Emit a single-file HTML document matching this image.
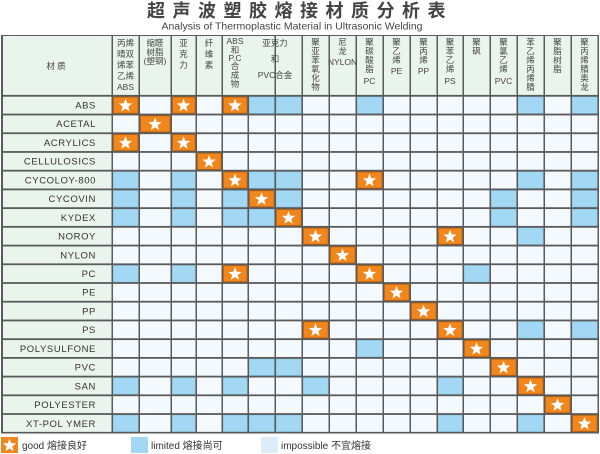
<!DOCTYPE html>
<html><head><meta charset="utf-8"><style>
body{margin:0;background:#fff;width:600px;height:454px;overflow:hidden;font-family:"Liberation Sans","Noto Sans CJK SC",sans-serif}
svg{display:block}
.h{font-size:8.5px;fill:#444;text-anchor:middle;font-family:"Liberation Sans","Noto Sans CJK SC",sans-serif}
.l{font-size:9.5px;fill:#333;text-anchor:end;letter-spacing:0.6px}
</style></head><body>
<svg id="s" width="600" height="454" xmlns="http://www.w3.org/2000/svg">
<text x="300" y="17" text-anchor="middle" font-size="18" font-weight="bold" fill="#444" letter-spacing="7.5" font-family="'Noto Sans CJK SC',sans-serif">超声波塑胶熔接材质分析表</text>
<text x="292" y="29.5" text-anchor="middle" font-size="10.5" fill="#444">Analysis of Thermoplastic Material in Ultrasonic Welding</text>
<rect x="1" y="35" width="598" height="398.5" fill="#5a5a5a"/>
<g id="cells"></g>
<g>
<text class="h" x="56" y="69" font-size="10">材 质</text>
<text class="h" x="125.5" y="46">丙烯</text><text class="h" x="125.5" y="57">晴双</text><text class="h" x="125.5" y="68">烯苯</text><text class="h" x="125.5" y="79">乙烯</text><text class="h" x="125.5" y="90">ABS</text>
<text class="h" x="155" y="46">缩醛</text><text class="h" x="155" y="55">树脂</text><text class="h" x="155" y="64">(塑钢)</text>
<text class="h" x="183.5" y="46">亚</text><text class="h" x="183.5" y="57">克</text><text class="h" x="183.5" y="68">力</text>
<text class="h" x="209" y="46">纤</text><text class="h" x="209" y="57">维</text><text class="h" x="209" y="68">素</text>
<text class="h" x="235" y="44" font-size="7">ABS</text><text class="h" x="235" y="53">和</text><text class="h" x="235" y="61" font-size="7">P.C</text><text class="h" x="235" y="69">合</text><text class="h" x="235" y="78">成</text><text class="h" x="235" y="87">物</text>
<text class="h" x="275" y="46">亚克力</text><text class="h" x="275" y="62">和</text><text class="h" x="275" y="78">PVC合金</text>
<text class="h" x="315.5" y="45">聚</text><text class="h" x="315.5" y="54">亚</text><text class="h" x="315.5" y="63">苯</text><text class="h" x="315.5" y="72">氧</text><text class="h" x="315.5" y="81">化</text><text class="h" x="315.5" y="90">物</text>
<text class="h" x="342.5" y="45">尼</text><text class="h" x="342.5" y="54">龙</text><text class="h" x="342.5" y="65" font-size="6.5">NYLON</text>
<text class="h" x="369.5" y="45">聚</text><text class="h" x="369.5" y="54">碳</text><text class="h" x="369.5" y="63">酸</text><text class="h" x="369.5" y="72">脂</text><text class="h" x="369.5" y="84" font-size="10">PC</text>
<text class="h" x="396.5" y="45">聚</text><text class="h" x="396.5" y="54">乙</text><text class="h" x="396.5" y="63">烯</text><text class="h" x="396.5" y="74" font-size="10">PE</text>
<text class="h" x="423.5" y="45">聚</text><text class="h" x="423.5" y="54">丙</text><text class="h" x="423.5" y="63">烯</text><text class="h" x="423.5" y="74" font-size="10">PP</text>
<text class="h" x="450" y="45">聚</text><text class="h" x="450" y="54">苯</text><text class="h" x="450" y="63">乙</text><text class="h" x="450" y="72">烯</text><text class="h" x="450" y="84" font-size="10">PS</text>
<text class="h" x="476.5" y="45">聚</text><text class="h" x="476.5" y="54">砜</text>
<text class="h" x="503.5" y="45">聚</text><text class="h" x="503.5" y="54">氯</text><text class="h" x="503.5" y="63">乙</text><text class="h" x="503.5" y="72">烯</text><text class="h" x="503.5" y="84" font-size="10">PVC</text>
<text class="h" x="530.5" y="45">苯</text><text class="h" x="530.5" y="54">乙</text><text class="h" x="530.5" y="63">烯</text><text class="h" x="530.5" y="72">丙</text><text class="h" x="530.5" y="81">烯</text><text class="h" x="530.5" y="90">腈</text>
<text class="h" x="557.5" y="45">聚</text><text class="h" x="557.5" y="54">脂</text><text class="h" x="557.5" y="63">树</text><text class="h" x="557.5" y="72">脂</text>
<text class="h" x="584.5" y="45">聚</text><text class="h" x="584.5" y="54">丙</text><text class="h" x="584.5" y="63">烯</text><text class="h" x="584.5" y="72">腈</text><text class="h" x="584.5" y="81">奥</text><text class="h" x="584.5" y="90">龙</text>
</g>
<g>
<text class="l" x="96" y="108.5">ABS</text>
<text class="l" x="96" y="127.2">ACETAL</text>
<text class="l" x="96" y="145.9">ACRYLICS</text>
<text class="l" x="96" y="164.6">CELLULOSICS</text>
<text class="l" x="96" y="183.4">CYCOLOY-800</text>
<text class="l" x="96" y="202.1">CYCOVIN</text>
<text class="l" x="96" y="220.8">KYDEX</text>
<text class="l" x="96" y="239.5">NOROY</text>
<text class="l" x="96" y="258.3">NYLON</text>
<text class="l" x="96" y="277">PC</text>
<text class="l" x="96" y="295.7">PE</text>
<text class="l" x="96" y="314.4">PP</text>
<text class="l" x="96" y="333.2">PS</text>
<text class="l" x="96" y="351.9">POLYSULFONE</text>
<text class="l" x="96" y="370.6">PVC</text>
<text class="l" x="96" y="389.3">SAN</text>
<text class="l" x="96" y="408.1">POLYESTER</text>
<text class="l" x="96" y="426.8">XT-POL YMER</text>
</g>
<g id="leg">
<rect x="1" y="437" width="17" height="16" fill="#f0861c"/>
<text x="22" y="449" font-size="10" fill="#333">good 熔接良好</text>
<rect x="131" y="437" width="17" height="16" fill="#a2d8f4"/>
<text x="151" y="449" font-size="10" fill="#333">limited 熔接尚可</text>
<rect x="261" y="437" width="17" height="16" fill="#dcedf9"/>
<text x="281" y="449" font-size="10" fill="#333">impossible  不宜熔接</text>
</g>
</svg>
<script>
var xs=[2,112,139,171,196,222,248,275,302,329,356,383,410,437,463,490,517,544,571,598];
var rows={0:"S0 S2 S4 B5 B6 B9 B15 B17",1:"S1",2:"S0 S2",3:"S3",4:"B0 B2 S4 B5 B6 S9 B15 B17",5:"B0 B2 B4 S5 B6 B14 B17",6:"B0 B2 B4 B5 S6 B14 B17",7:"S7 S12 B15",8:"S8",9:"B0 B2 S4 S9 B13",10:"S10",11:"S11",12:"S7 S12 B15 B17",13:"B9 S13",14:"B5 B6 S14",15:"B0 B2 B4 B7 B12 S15",16:"S16",17:"B0 B2 B4 B5 B6 B12 B15 S17"};
var NS="http://www.w3.org/2000/svg",g=document.getElementById("cells");
function r(x,y,w,h,f){var e=document.createElementNS(NS,"rect");e.setAttribute("x",x);e.setAttribute("y",y);e.setAttribute("width",w);e.setAttribute("height",h);e.setAttribute("fill",f);g.appendChild(e);return e;}
function star(cx,cy,R,par){var p="";for(var i=0;i<10;i++){var a=-Math.PI/2+i*Math.PI/5,rr=i%2?R*0.42:R;p+=(cx+rr*Math.cos(a)).toFixed(2)+","+(cy+rr*Math.sin(a)).toFixed(2)+" ";}var e=document.createElementNS(NS,"polygon");e.setAttribute("points",p);e.setAttribute("fill","#fff");(par||g).appendChild(e);}
var H0=35,H1=95.7,RH=18.72;
for(var c=0;c<xs.length-1;c++){ if(c==6)continue; var x0=xs[c],x1=xs[c+1]; if(c==5)x1=xs[7]; r(x0+1,H0+1,x1-x0-1.5,H1-H0-1.8,"#e9f4ec");}
for(var i=0;i<18;i++){var y=H1+i*RH;var set={};(rows[i]||"").split(" ").forEach(function(t){if(t)set[+t.slice(1)]=t[0];});
r(xs[0]+1,y+1,xs[1]-xs[0]-1.5,RH-1.8,"#e9f4ec");
for(var c=1;c<xs.length-1;c++){var k=c-1,x0=xs[c],w=xs[c+1]-x0;var t=set[k];
 if(t=="S"){r(x0+1,y+1,w-1.5,RH-1.8,"#b8600e");r(x0+1.8,y+1.8,w-3.1,RH-3.4,"#f0861c");star(x0+w/2,y+RH/2+0.6,7);}
 else if(t=="B"){r(x0+1,y+1,w-1.5,RH-1.8,"#8cc6e4");r(x0+1.6,y+1.6,w-2.7,RH-3,"#a2d8f4");}
 else r(x0+1,y+1,w-1.5,RH-1.8,"#f4f9fd");}}
star(9.5,445.5,7,document.getElementById("leg"));
</script>
</body></html>
